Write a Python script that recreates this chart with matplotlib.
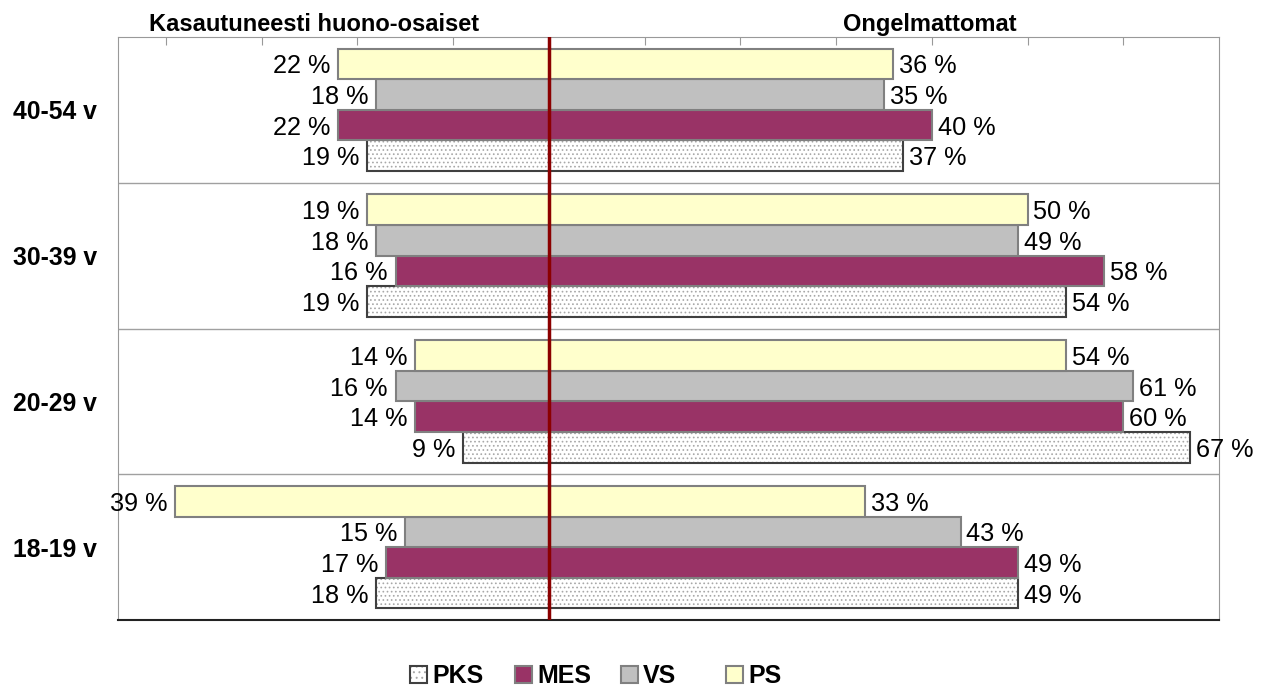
import matplotlib.pyplot as plt
from matplotlib.patches import Rectangle

plt.rcParams['font.family'] = ['Liberation Sans', 'DejaVu Sans']
plt.rcParams['hatch.linewidth'] = 0.7

groups = ['18-19 v', '20-29 v', '30-39 v', '40-54 v']
series = ['PKS', 'MES', 'VS', 'PS']

# kasautuneesti huono-osaiset (left side), bottom group first
pks_bad = [18, 9, 19, 19]
mes_bad = [17, 14, 16, 22]
vs_bad = [15, 16, 18, 18]
ps_bad = [39, 14, 19, 22]

# ongelmattomat (right side)
pks_ok = [49, 67, 54, 37]
mes_ok = [49, 60, 58, 40]
vs_ok = [43, 61, 49, 35]
ps_ok = [33, 54, 50, 36]

bad = [pks_bad, mes_bad, vs_bad, ps_bad]
ok = [pks_ok, mes_ok, vs_ok, ps_ok]
fills = ['white', '#993366', '#C0C0C0', '#FFFFCC']
edges = ['#404040', '#808080', '#808080', '#808080']

W, H = 1262, 688
fig = plt.figure(figsize=(W / 100, H / 100), dpi=100)
ax = fig.add_axes([118 / W, 68 / H, (1219 - 118) / W, (620 - 37) / H])

h = 0.21
fs_val = 18.2
fs_bold = 17.8
for s in range(4):
    for g in range(4):
        y = g + 0.5 + (s - 1.5) * h
        b, o = bad[s][g], ok[s][g]
        if series[s] == 'PKS':
            ax.barh(y, b + o, left=-b, height=h, color='white',
                    edgecolor='#a8a8a8', linewidth=0, hatch='....', zorder=2)
            ax.barh(y, b + o, left=-b, height=h, color='none',
                    edgecolor=edges[s], linewidth=1.5, zorder=2)
        else:
            ax.barh(y, b + o, left=-b, height=h, color=fills[s],
                    edgecolor=edges[s], linewidth=1.5, zorder=2)
        ax.text(-b - 0.8, y, f'{b} %', ha='right', va='center_baseline', fontsize=fs_val)
        ax.text(o + 0.6, y, f'{o} %', ha='left', va='center_baseline', fontsize=fs_val)

for yy in [1, 2, 3]:
    ax.axhline(yy, color='#a0a0a0', lw=1, zorder=1)
ax.axvline(0, color='#8B0000', lw=2.5, zorder=3)

ax.set_xlim(-45, 70)
ax.set_ylim(0, 4)
ax.set_yticks([g + 0.5 for g in range(4)])
ax.set_yticklabels(groups, fontsize=fs_bold, fontweight='bold')
ax.tick_params(axis='y', length=0, pad=15)
ax.xaxis.tick_top()
ax.set_xticks([t for t in range(-40, 61, 10) if t != 0])
ax.set_xticklabels([])
ax.tick_params(axis='x', direction='in', length=6, color='#999999')
for side in ['top', 'left', 'right']:
    ax.spines[side].set_color('#999999')
ax.spines['bottom'].set_color('#222222')
ax.spines['bottom'].set_linewidth(1.5)

fig.text(149 / W, 1 - 31 / H, 'Kasautuneesti huono-osaiset', fontsize=17,
         fontweight='bold', ha='left', va='baseline')
fig.text(930 / W, 1 - 31 / H, 'Ongelmattomat', fontsize=17,
         fontweight='bold', ha='center', va='baseline')

# legend drawn by hand to keep the even spacing of the original
leg_x = [410, 515, 621, 726]
for s in range(4):
    x0 = leg_x[s]
    if series[s] == 'PKS':
        fig.patches.append(Rectangle((x0 / W, 1 - 683 / H), 17 / W, 17 / H,
                                     transform=fig.transFigure, facecolor='white',
                                     edgecolor='#a8a8a8', linewidth=0, hatch='...'))
        fig.patches.append(Rectangle((x0 / W, 1 - 683 / H), 17 / W, 17 / H,
                                     transform=fig.transFigure, facecolor='none',
                                     edgecolor=edges[s], linewidth=1.5))
    else:
        fig.patches.append(Rectangle((x0 / W, 1 - 683 / H), 17 / W, 17 / H,
                                     transform=fig.transFigure, facecolor=fills[s],
                                     edgecolor=edges[s], linewidth=1.5))
    fig.text((x0 + 22) / W, 1 - 683 / H, series[s], fontsize=18,
             fontweight='bold', ha='left', va='baseline')

fig.savefig('out.png', dpi=100)
